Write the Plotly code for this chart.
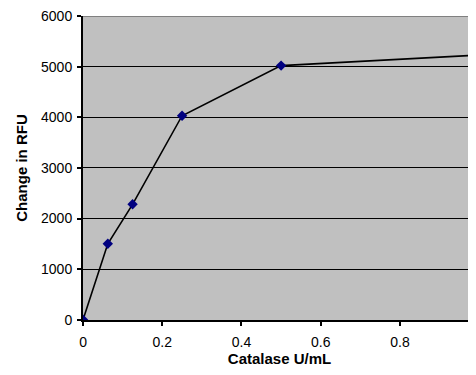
import plotly.graph_objects as go

# Catalase concentration (U/mL) vs change in fluorescence
catalase = [0, 0.0625, 0.125, 0.25, 0.5, 1.0]
rfu_change = [0, 1500, 2280, 4030, 5020, 5230]

FONT = "Liberation Sans, Arial, sans-serif"

fig = go.Figure()
fig.add_trace(go.Scatter(
    x=catalase,
    y=rfu_change,
    mode="lines+markers",
    line=dict(color="black", width=1.6),
    marker=dict(symbol="diamond", size=8, color="#000080"),
    showlegend=False,
))

# page body adds an 8px margin; size the figure so the page never scrolls,
# the plot area runs off the right side as in the original
fig.update_layout(
    width=468,
    height=359,
    margin=dict(l=75, r=0, t=8, b=47),
    paper_bgcolor="white",
    plot_bgcolor="#c0c0c0",
    font=dict(family=FONT, size=14, color="black"),
    xaxis=dict(
        range=[-0.0001, 0.992],
        tickvals=[0, 0.2, 0.4, 0.6, 0.8],
        ticktext=["0", "0.2", "0.4", "0.6", "0.8"],
        showgrid=False,
        zeroline=False,
        showline=True,
        linecolor="black",
        linewidth=2,
        ticks="outside",
        ticklen=4,
        tickwidth=2,
        tickcolor="black",
        ticklabelstandoff=4,
        automargin=False,
        title=dict(text="<b>Catalase U/mL</b>", font=dict(size=15), standoff=6),
    ),
    yaxis=dict(
        range=[-5, 6000],
        tickvals=[0, 1000, 2000, 3000, 4000, 5000, 6000],
        showgrid=True,
        gridcolor="black",
        gridwidth=1,
        zeroline=False,
        showline=True,
        linecolor="black",
        linewidth=2,
        ticks="outside",
        ticklen=4,
        tickwidth=2,
        tickcolor="black",
        ticklabelstandoff=2,
        ticklabeloverflow="allow",
        automargin=False,
        title=dict(text="<b>Change in RFU</b>", font=dict(size=15), standoff=10),
    ),
    shapes=[dict(
        type="line", xref="paper", yref="y",
        x0=0, x1=1, y0=6000, y1=6000,
        line=dict(color="#808080", width=2),
        layer="above",
    )],
)

fig.write_html("out.html")
